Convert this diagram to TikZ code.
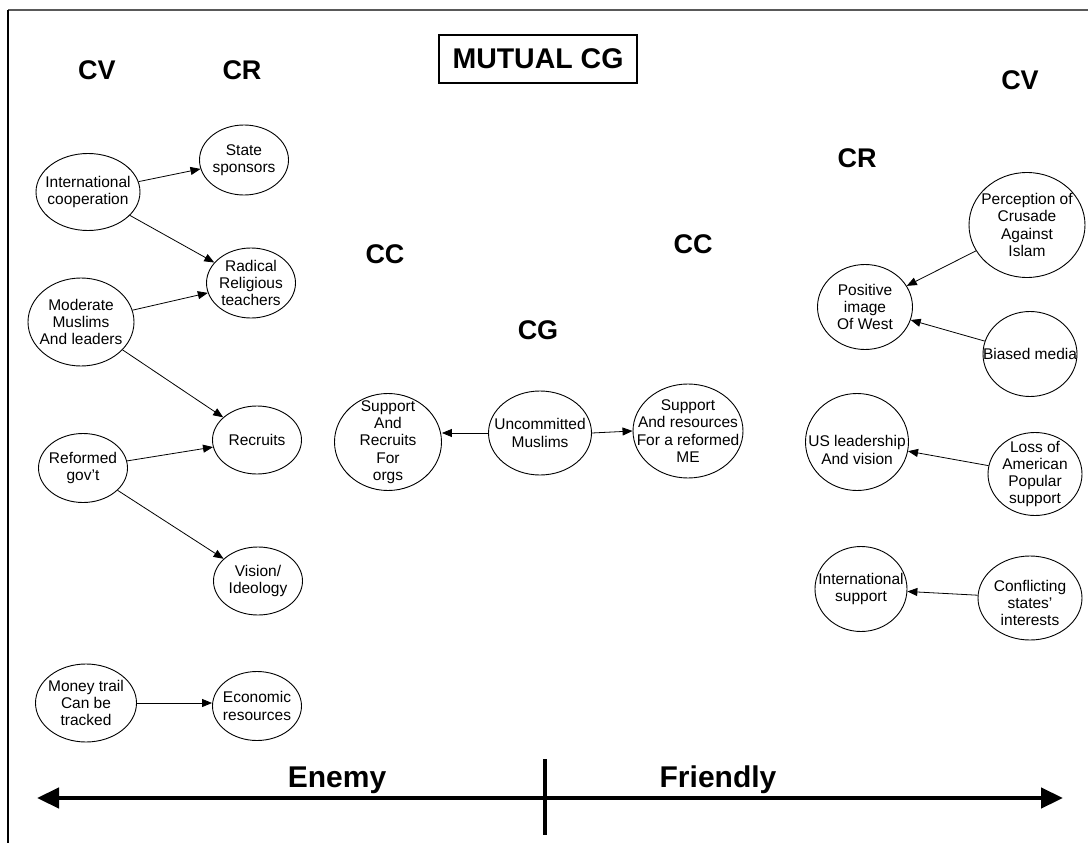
\documentclass[tikz,border=0pt]{standalone}
\usepackage{fontspec}
\setmainfont{Liberation Sans}
\usetikzlibrary{shapes.geometric,arrows.meta}
\newcommand\nfont{\fontsize{15.5}{17.3}\selectfont}
\newcommand\hfont{\fontsize{27}{30}\selectfont\bfseries}
\newcommand\afont{\fontsize{30}{34}\selectfont\bfseries}
\tikzset{
  ell/.style={draw, ellipse, line width=0.9pt, inner sep=0pt},
  txt/.style={align=center, font=\nfont, inner sep=0pt},
  hd/.style={font=\hfont, anchor=base, inner sep=0pt},
  arr/.style={-{Triangle[length=10pt,width=8pt]}, line width=0.8pt},
  bigarr/.style={{Triangle[length=22pt,width=20pt]}-{Triangle[length=22pt,width=20pt]}, line width=4.5pt},
}
\begin{document}
\begin{tikzpicture}[x=1pt,y=-1pt]
\useasboundingbox (0,0) rectangle (1088,843);
% frame
\coordinate (ftl) at (8,10);
\coordinate (ftr) at (1088,10);
\coordinate (fbl) at (8,843);
\draw[line width=2pt, black!65] (ftl) -- (ftr);
\draw[line width=1.5pt] (ftl) -- (fbl);

% headings
\node[hd] (cvl) at (97,80) {CV};
\node[hd] (crl) at (242,80) {CR};
\node[hd] (ccl) at (385,263) {CC};
\node[hd] (ccr) at (693,253) {CC};
\node[hd] (cg) at (538,339) {CG};
\node[hd] (crr) at (857,167) {CR};
\node[hd] (cvr) at (1020,90) {CV};
\node[draw, line width=1.2pt, minimum width=198pt, minimum height=48pt, font=\fontsize{28.5}{31}\selectfont\bfseries] (mutual) at (538,59) {MUTUAL CG};

% enemy side
\node[ell, minimum width=104pt, minimum height=77pt] (ic) at (88,192) {};
\node[txt] (tic) at (ic) {International\\cooperation};
\node[ell, minimum width=89pt, minimum height=70pt] (ss) at (244,160) {};
\node[txt] (tss) at (ss) {State\\sponsors};
\node[ell, minimum width=89pt, minimum height=70pt] (rr) at (251,283) {};
\node[txt] (trr) at (rr) {Radical\\Religious\\teachers};
\node[ell, minimum width=106pt, minimum height=88pt] (mm) at (81,322) {};
\node[txt] (tmm) at (mm) {Moderate\\Muslims\\And leaders};
\node[ell, minimum width=89pt, minimum height=68pt] (rc) at (257,440) {};
\node[txt] (trc) at (rc) {Recruits};
\node[ell, minimum width=89pt, minimum height=69pt] (rg) at (83,468) {};
\node[txt] (trg) at (rg) {Reformed\\gov't};
\node[ell, minimum width=89pt, minimum height=68pt] (vi) at (258,581) {};
\node[txt] (tvi) at (vi) {Vision/\\Ideology};
\node[ell, minimum width=101pt, minimum height=78pt] (mt) at (86,703) {};
\node[txt] (tmt) at (mt) {Money trail\\Can be\\tracked};
\node[ell, minimum width=89pt, minimum height=69pt] (er) at (257,706) {};
\node[txt] (ter) at (er) {Economic\\resources};

% centre
\node[ell, minimum width=107pt, minimum height=97pt] (so) at (388,442) {};
\node[txt] (tso) at (so) {Support\\And\\Recruits\\For\\orgs};
\node[ell, minimum width=103pt, minimum height=84pt] (um) at (540,433) {};
\node[txt] (tum) at (um) {Uncommitted\\Muslims};
\node[ell, minimum width=110pt, minimum height=94pt] (sm) at (688,431) {};
\node[txt] (tsm) at (sm) {Support\\And resources\\For a reformed\\ME};

% friendly side
\node[ell, minimum width=116pt, minimum height=105pt] (pc) at (1027,225) {};
\node[txt] (tpc) at (pc) {Perception of\\Crusade\\Against\\Islam};
\node[ell, minimum width=95pt, minimum height=85pt] (pw) at (865,307) {};
\node[txt] (tpw) at (pw) {Positive\\image\\Of West};
\node[ell, minimum width=94pt, minimum height=85pt] (bm) at (1030,354) {};
\node[txt] (tbm) at (bm) {Biased media};
\node[ell, minimum width=103pt, minimum height=97pt] (us) at (857,442) {};
\node[txt] (tus) at (857,450) {US leadership\\And vision};
\node[ell, minimum width=94pt, minimum height=83pt] (lo) at (1035,474) {};
\node[txt] (tlo) at (lo) {Loss of\\American\\Popular\\support};
\node[ell, minimum width=92pt, minimum height=85pt] (is) at (861,589) {};
\node[txt] (tis) at (is) {International\\support};
\node[ell, minimum width=104pt, minimum height=84pt] (cs) at (1030,598) {};
\node[txt] (tcs) at (1030,603) {Conflicting\\states'\\interests};

% connectors
\draw[arr] (ic) -- (ss);
\draw[arr] (ic) -- (rr);
\draw[arr] (mm) -- (rr);
\draw[arr] (mm) -- (rc);
\draw[arr] (rg) -- (rc);
\draw[arr] (rg) -- (vi);
\draw[arr] (mt.east) -- (er.west |- mt.east);
\draw[arr] (um.west) -- (so.east |- um.west);
\draw[arr] (um.east) -- (sm.west);
\draw[arr] (pc) -- (pw);
\draw[arr] (bm) -- (pw);
\draw[arr] (lo) -- (us);
\draw[arr] (cs) -- (is);

% axis
\coordinate (axl) at (37,798);
\coordinate (axr) at (1063,798);
\coordinate (dvt) at (545,759);
\coordinate (dvb) at (545,835);
\draw[bigarr] (axl) -- (axr);
\draw[line width=4pt] (dvt) -- (dvb);
\node[font=\afont, anchor=base, inner sep=0pt] (enemy) at (337,787) {Enemy};
\node[font=\afont, anchor=base, inner sep=0pt] (friendly) at (718,787) {Friendly};
\end{tikzpicture}
\end{document}
